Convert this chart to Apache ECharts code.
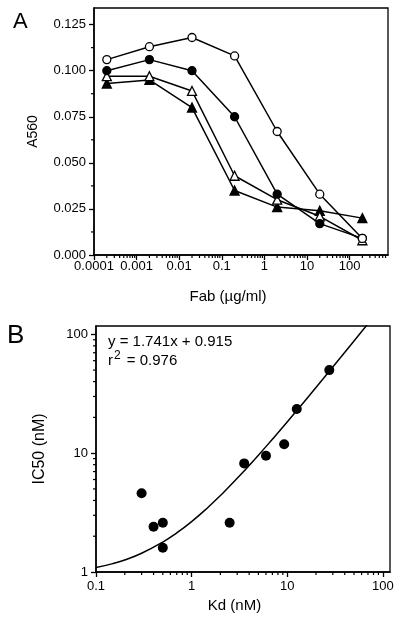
<!DOCTYPE html>
<html>
<head>
<meta charset="utf-8">
<script src="https://cdn.jsdelivr.net/npm/echarts@6/dist/echarts.min.js"></script>
<style>html,body{margin:0;padding:0;background:#fff}#c{width:400px;height:621px}</style>
</head>
<body>
<div id="c"></div>
<script>
// ---- Panel A data ----
const fabConc = [0.0002, 0.002, 0.02, 0.2, 2, 20, 200];
const openCircle = [0.106, 0.113, 0.118, 0.108, 0.067, 0.033, 0.009];
const filledCircle = [0.100, 0.106, 0.100, 0.075, 0.033, 0.017, 0.009];
const openTriangle = [0.097, 0.097, 0.089, 0.043, 0.030, 0.021, 0.008];
const filledTriangle = [0.093, 0.095, 0.080, 0.035, 0.026, 0.024, 0.020];
const aXTicks = [0.0001, 0.001, 0.01, 0.1, 1, 10, 100];
const aXLabels = ['0.0001', '0.001', '0.01', '0.1', '1', '10', '100'];
const aYTicks = [0, 0.025, 0.05, 0.075, 0.1, 0.125];
const aYLabels = ['0.000', '0.025', '0.050', '0.075', '0.100', '0.125'];
const aYMinor = [0.0125, 0.0375, 0.0625, 0.0875, 0.1125];

// ---- Panel B data ----
const kd = [0.30, 0.40, 0.50, 0.50, 2.5, 3.55, 6.0, 9.3, 12.6, 27.6];
const ic50 = [4.6, 2.4, 2.6, 1.6, 2.6, 8.2, 9.5, 11.9, 23.5, 50.0];
const fitKd = [0.1, 0.15, 0.2, 0.3, 0.5, 0.7, 1, 1.5, 2, 3, 5, 7, 10, 15, 20, 30, 50, 70];
const fitIC50 = [1.089, 1.176, 1.263, 1.437, 1.786, 2.134, 2.656, 3.527, 4.397, 6.138, 9.62, 13.1, 18.3, 27.0, 35.7, 53.1, 88.0, 122.8];
const bXTicks = [0.1, 1, 10, 100];
const bXLabels = ['0.1', '1', '10', '100'];
const bYTicks = [1, 10, 100];
const bYLabels = ['1', '10', '100'];
const minorMult = [2, 3, 4, 5, 6, 7, 8, 9];

function logMinor(lo, hi) {
  const out = [];
  for (let d = Math.floor(Math.log10(lo)); d <= Math.ceil(Math.log10(hi)); d++) {
    for (const m of minorMult) {
      const v = m * Math.pow(10, d);
      if (v > lo && v < hi) out.push(+v.toPrecision(6));
    }
  }
  return out;
}
function labelFor(ticks, labels) {
  return function (v) {
    for (let i = 0; i < ticks.length; i++) {
      if (Math.abs(v - ticks[i]) <= Math.abs(ticks[i]) * 1e-6 + 1e-12) return labels[i];
    }
    return '';
  };
}

const AX = {min: 0.0001, max: 800};
const AY = {min: 0, max: 0.134};
const BX = {min: 0.1, max: 119};
const BY = {min: 1, max: 117.5};

const FONT = '"Liberation Sans", Arial, Helvetica, sans-serif';
const black = '#000';

function xTickSeries(idx, values, yBase, len) {
  return {
    type: 'custom', xAxisIndex: idx, yAxisIndex: idx, silent: true, clip: false, z: 5,
    data: values.map(v => [v, yBase]),
    renderItem: function (params, api) {
      const p = api.coord([api.value(0), api.value(1)]);
      return {type: 'line', shape: {x1: p[0], y1: p[1], x2: p[0], y2: p[1] + len},
        style: {stroke: black, lineWidth: 1.2}};
    }
  };
}
function yTickSeries(idx, values, xBase, len) {
  return {
    type: 'custom', xAxisIndex: idx, yAxisIndex: idx, silent: true, clip: false, z: 5,
    data: values.map(v => [xBase, v]),
    renderItem: function (params, api) {
      const p = api.coord([api.value(0), api.value(1)]);
      return {type: 'line', shape: {x1: p[0] - len, y1: p[1], x2: p[0], y2: p[1]},
        style: {stroke: black, lineWidth: 1.2}};
    }
  };
}

const axisLineStyle = {show: true, lineStyle: {color: black, width: 1.5}};
const labelStyle = {color: black, fontFamily: FONT, fontSize: 13};
const nameStyle = {color: black, fontFamily: FONT, fontSize: 15};
const tickStyle = {color: black, width: 1.3};

function lineSeries(name, vals, symbol, filled, size) {
  return {
    type: 'line', name: name, xAxisIndex: 0, yAxisIndex: 0,
    data: fabConc.map((x, i) => [x, vals[i]]),
    symbol: symbol, symbolSize: size, showAllSymbol: true,
    lineStyle: {color: black, width: 1.5},
    itemStyle: {color: filled ? black : '#fff', borderColor: black, borderWidth: 1.3, opacity: 1},
    z: 3, animation: false
  };
}

const chart = echarts.init(document.getElementById('c'), null, {renderer: 'canvas'});
chart.setOption({
  animation: false,
  backgroundColor: '#fff',
  textStyle: {fontFamily: FONT},
  grid: [
    {left: 94, top: 8, width: 294, height: 247, show: true, borderColor: black, borderWidth: 1.3, backgroundColor: 'transparent'},
    {left: 96, top: 326, width: 294, height: 246, show: true, borderColor: black, borderWidth: 1.3, backgroundColor: 'transparent'}
  ],
  xAxis: [
    {
      type: 'log', gridIndex: 0, logBase: 10, min: AX.min, max: AX.max,
      name: 'Fab (\u00b5g/ml)', nameLocation: 'middle', nameGap: 34,
      nameTextStyle: Object.assign({}, nameStyle, {padding: [0, 26, 0, 0]}),
      axisLine: axisLineStyle,
      axisTick: {show: true, inside: false, length: 5, lineStyle: tickStyle, customValues: aXTicks},
      axisLabel: Object.assign({}, labelStyle, {margin: 5, customValues: aXTicks, formatter: labelFor(aXTicks, aXLabels)}),
      splitLine: {show: false}
    },
    {
      type: 'log', gridIndex: 1, logBase: 10, min: BX.min, max: BX.max,
      name: 'Kd (nM)', nameLocation: 'middle', nameGap: 26,
      nameTextStyle: Object.assign({}, nameStyle, {padding: [0, 17, 0, 0]}),
      axisLine: axisLineStyle,
      axisTick: {show: true, inside: false, length: 5, lineStyle: tickStyle, customValues: bXTicks},
      axisLabel: Object.assign({}, labelStyle, {margin: 8, customValues: bXTicks, formatter: labelFor(bXTicks, bXLabels)}),
      splitLine: {show: false}
    }
  ],
  yAxis: [
    {
      type: 'value', gridIndex: 0, min: AY.min, max: AY.max,
      name: 'A560', nameLocation: 'middle', nameGap: 54, nameRotate: 90,
      nameTextStyle: Object.assign({}, nameStyle, {fontSize: 14}),
      axisLine: axisLineStyle,
      axisTick: {show: true, inside: false, length: 5, lineStyle: tickStyle, customValues: aYTicks},
      axisLabel: Object.assign({}, labelStyle, {margin: 8, customValues: aYTicks, formatter: labelFor(aYTicks, aYLabels)}),
      splitLine: {show: false}
    },
    {
      type: 'log', gridIndex: 1, logBase: 10, min: BY.min, max: BY.max,
      name: 'IC50 (nM)', nameLocation: 'middle', nameGap: 48, nameRotate: 90,
      nameTextStyle: Object.assign({}, nameStyle, {fontSize: 16}),
      axisLine: axisLineStyle,
      axisTick: {show: true, inside: false, length: 5, lineStyle: tickStyle, customValues: bYTicks},
      axisLabel: Object.assign({}, labelStyle, {margin: 8, customValues: bYTicks, formatter: labelFor(bYTicks, bYLabels)}),
      splitLine: {show: false}
    }
  ],
  series: [
    xTickSeries(0, logMinor(AX.min, AX.max), AY.min, 3),
    yTickSeries(0, aYMinor, AX.min, 3),
    xTickSeries(1, logMinor(BX.min, BX.max), BY.min, 3),
    yTickSeries(1, logMinor(BY.min, BY.max), BX.min, 3),
    lineSeries('filled triangle', filledTriangle, 'triangle', true, 9),
    lineSeries('open triangle', openTriangle, 'triangle', false, 9),
    lineSeries('filled circle', filledCircle, 'circle', true, 8),
    lineSeries('open circle', openCircle, 'circle', false, 8),
    {
      type: 'line', name: 'fit', xAxisIndex: 1, yAxisIndex: 1,
      data: fitKd.map((x, i) => [x, fitIC50[i]]),
      smooth: true, symbol: 'none', clip: true,
      lineStyle: {color: black, width: 1.5}, z: 2
    },
    {
      type: 'scatter', name: 'IC50 vs Kd', xAxisIndex: 1, yAxisIndex: 1,
      data: kd.map((x, i) => [x, ic50[i]]),
      symbol: 'circle', symbolSize: 10,
      itemStyle: {color: black, opacity: 1}, z: 3
    }
  ],
  graphic: [
    {type: 'text', left: 13, top: 11, style: {text: 'A', fontSize: 22, fontFamily: FONT, fill: black}},
    {type: 'text', left: 7, top: 323, style: {text: 'B', fontSize: 26, fontFamily: FONT, fill: black}},
    {type: 'text', left: 108, top: 334, style: {text: 'y = 1.741x + 0.915', fontSize: 15, fontFamily: FONT, fill: black}},
    {type: 'text', left: 108, top: 350, style: {
      text: '{a|r}{s|2}{a| = 0.976}', fill: black,
      rich: {
        a: {fontSize: 15, fontFamily: FONT, color: black, lineHeight: 18, verticalAlign: 'bottom'},
        s: {fontSize: 12, fontFamily: FONT, color: black, lineHeight: 18, verticalAlign: 'top', padding: [0, 2, 0, 1]}
      }
    }}
  ]
});
</script>
</body>
</html>
